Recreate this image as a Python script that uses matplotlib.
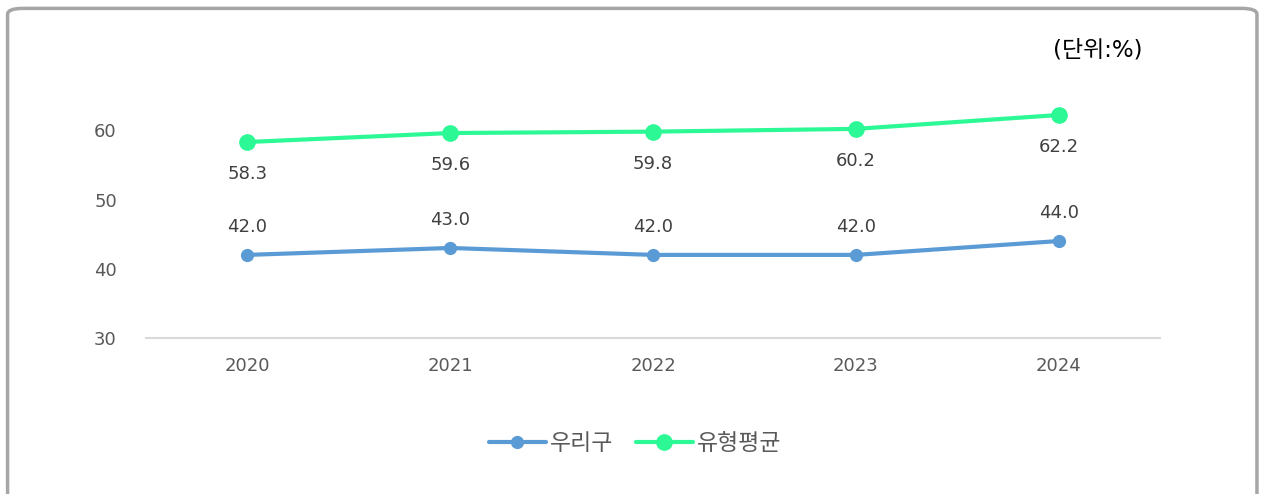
#!/usr/bin/env python3

import matplotlib.pyplot as plt
from matplotlib.patches import FancyBboxPatch

# DejaVu for digits/latin, Noto CJK picks up the Hangul
plt.rcParams['font.family'] = ['DejaVu Sans', 'Noto Sans CJK KR']

# Chart data
years = ['2020', '2021', '2022', '2023', '2024']
our_district = [42.0, 43.0, 42.0, 42.0, 44.0]
type_average = [58.3, 59.6, 59.8, 60.2, 62.2]
y_ticks = [30, 40, 50, 60]

blue = '#5B9BD5'
green = '#2CF996'
text_gray = '#595959'

fig = plt.figure(figsize=(12.62, 4.94), dpi=100)

# Rounded gray border around the whole chart (drawn behind the axes)
border = FancyBboxPatch((0.006, -0.05), 0.990, 1.033,
                        boxstyle='round,pad=0,rounding_size=0.012',
                        transform=fig.transFigure, facecolor='white',
                        edgecolor='#A6A6A6', linewidth=2.5, zorder=-5)
fig.patches.append(border)

ax = fig.add_axes([0.1157, 0.3158, 0.8035, 0.5607], zorder=2)
ax.set_facecolor('none')

x = list(range(len(years)))
ax.plot(x, our_district, color=blue, linewidth=3, marker='o',
        markersize=8.5, label='우리구', solid_capstyle='round')
ax.plot(x, type_average, color=green, linewidth=3, marker='o',
        markersize=11, label='유형평균', solid_capstyle='round')

# Data labels: blue above, green below
for i, v in enumerate(our_district):
    ax.annotate(f'{v:.1f}', (i, v), xytext=(0, 20), textcoords='offset points',
                ha='center', va='center', fontsize=13, color='#404040')
for i, v in enumerate(type_average):
    ax.annotate(f'{v:.1f}', (i, v), xytext=(0, -23), textcoords='offset points',
                ha='center', va='center', fontsize=13, color='#404040')

ax.set_xlim(-0.5, len(years) - 0.5)
ax.set_ylim(30, 70)
ax.set_xticks(x)
ax.set_xticklabels(years)
ax.set_yticks(y_ticks)
ax.tick_params(axis='both', length=0, labelsize=13, colors=text_gray)
ax.tick_params(axis='x', pad=14)
ax.tick_params(axis='y', pad=21)

for side in ['top', 'right', 'left']:
    ax.spines[side].set_visible(False)
ax.spines['bottom'].set_color('#D9D9D9')
ax.spines['bottom'].set_linewidth(1.5)

fig.text(0.870, 0.898, '(단위:%)', ha='center', va='center',
         fontsize=16.5, color='black')

leg = fig.legend(loc='center', bbox_to_anchor=(0.503, 0.103), ncol=2,
                 frameon=False, fontsize=16.5, handlelength=2.5,
                 handletextpad=0.15, columnspacing=1.0, labelcolor=text_gray)

fig.savefig('out.png', dpi=100)
